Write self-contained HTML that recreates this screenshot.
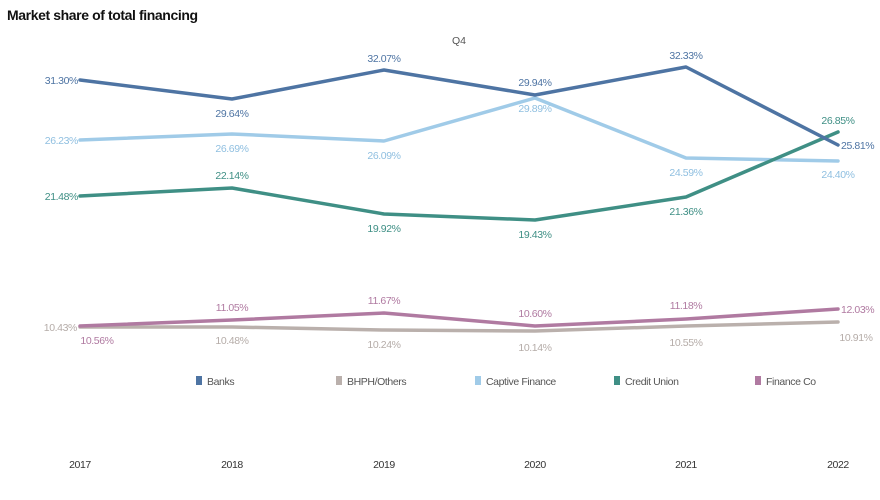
<!DOCTYPE html>
<html><head><meta charset="utf-8"><style>
body{margin:0;background:#fff;width:880px;height:495px;overflow:hidden}
svg{font-family:"Liberation Sans",sans-serif}
</style></head><body>
<svg width="880" height="495" viewBox="0 0 880 495">
<text x="7" y="20" font-size="14" fill="#111" font-weight="bold" letter-spacing="-0.4">Market share of total financing</text>
<text x="459" y="44" font-size="10.5" fill="#555" text-anchor="middle">Q4</text>
<g fill="none" stroke-width="3.5" stroke-linejoin="round" stroke-linecap="round">
<polyline stroke="#bab0ac" points="80,327 232,327 384,330 535,331 686,326 838,322"/>
<polyline stroke="#b07aa1" points="80,326 232,320 384,313 535,326 686,319 838,309"/>
<polyline stroke="#a0cbe8" points="80,140 232,134 384,141 535,98 686,158 838,161"/>
<polyline stroke="#3f8f85" points="80,196 232,188 384,214 535,220 686,197 838,132"/>
<polyline stroke="#4e74a3" points="80,80 232,99 384,70 535,95 686,67 838,145"/>
</g>
<g font-size="10.5" letter-spacing="-0.4">
<g fill="#4e74a3"><text x="78" y="84" text-anchor="end">31.30%</text><text x="232" y="117" text-anchor="middle">29.64%</text><text x="384" y="62" text-anchor="middle">32.07%</text><text x="535" y="86" text-anchor="middle">29.94%</text><text x="686" y="59" text-anchor="middle">32.33%</text><text x="841" y="149">25.81%</text></g>
<g fill="#8fbfe0"><text x="78" y="144" text-anchor="end">26.23%</text><text x="232" y="152" text-anchor="middle">26.69%</text><text x="384" y="159" text-anchor="middle">26.09%</text><text x="535" y="112" text-anchor="middle">29.89%</text><text x="686" y="176" text-anchor="middle">24.59%</text><text x="838" y="178" text-anchor="middle">24.40%</text></g>
<g fill="#3f8f85"><text x="78" y="200" text-anchor="end">21.48%</text><text x="232" y="179" text-anchor="middle">22.14%</text><text x="384" y="232" text-anchor="middle">19.92%</text><text x="535" y="238" text-anchor="middle">19.43%</text><text x="686" y="215" text-anchor="middle">21.36%</text><text x="838" y="124" text-anchor="middle">26.85%</text></g>
<g fill="#b07aa1"><text x="97" y="344" text-anchor="middle">10.56%</text><text x="232" y="311" text-anchor="middle">11.05%</text><text x="384" y="304" text-anchor="middle">11.67%</text><text x="535" y="317" text-anchor="middle">10.60%</text><text x="686" y="309" text-anchor="middle">11.18%</text><text x="841" y="313">12.03%</text></g>
<g fill="#b5aca8"><text x="77" y="331" text-anchor="end">10.43%</text><text x="232" y="344" text-anchor="middle">10.48%</text><text x="384" y="348" text-anchor="middle">10.24%</text><text x="535" y="351" text-anchor="middle">10.14%</text><text x="686" y="346" text-anchor="middle">10.55%</text><text x="856" y="341" text-anchor="middle">10.91%</text></g>
</g>
<g font-size="10.5" fill="#555" letter-spacing="-0.4">
<rect x="196" y="376" width="6" height="9" fill="#4e74a3"/><text x="207" y="385">Banks</text>
<rect x="336" y="376" width="6" height="9" fill="#bab0ac"/><text x="347" y="385">BHPH/Others</text>
<rect x="475" y="376" width="6" height="9" fill="#a0cbe8"/><text x="486" y="385">Captive Finance</text>
<rect x="614" y="376" width="6" height="9" fill="#3f8f85"/><text x="625" y="385">Credit Union</text>
<rect x="755" y="376" width="6" height="9" fill="#b07aa1"/><text x="766" y="385">Finance Co</text>
</g>
<g font-size="10.5" fill="#333" text-anchor="middle" letter-spacing="-0.4">
<text x="80" y="468">2017</text><text x="232" y="468">2018</text><text x="384" y="468">2019</text><text x="535" y="468">2020</text><text x="686" y="468">2021</text><text x="838" y="468">2022</text>
</g>
</svg>
</body></html>
